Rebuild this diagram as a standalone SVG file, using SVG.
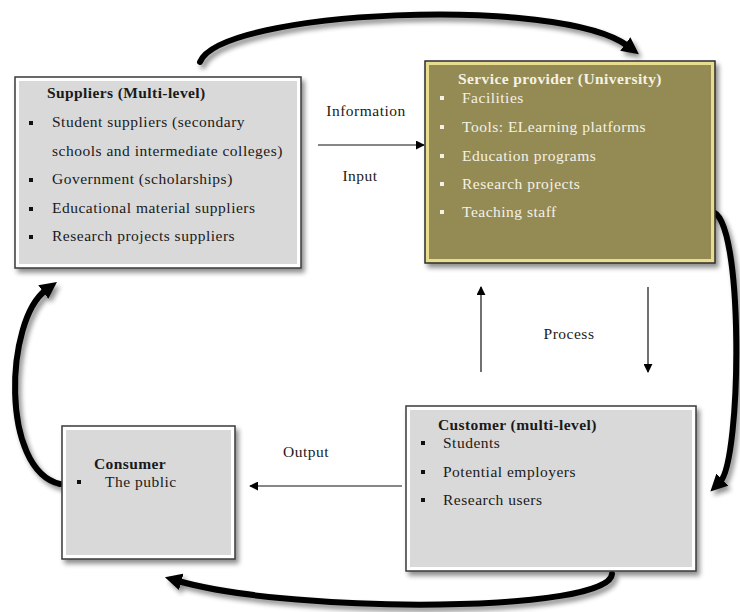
<svg xmlns="http://www.w3.org/2000/svg" width="740" height="612" viewBox="0 0 740 612">
<style>
  text { font-family: "Liberation Serif", "Times New Roman", serif; font-size: 15.5px; letter-spacing: 0.5px; fill: #1a1a1a; }
  .title { font-weight: bold; letter-spacing: 0.4px; }
  .light text, text.light { fill: #f4f2e6; }
  .outer { fill: #ffffff; stroke: #3a3a3a; stroke-width: 1.5; }
  .inner { fill: #d9d9d9; }
  .outerU { fill: #e8dc8e; stroke: #2e2e2e; stroke-width: 1.5; }
  .innerU { fill: #948a54; }
  .thin { fill: none; stroke: #111; stroke-width: 1.2; }
  .thick { fill: none; stroke: #000; stroke-width: 6; stroke-linecap: round; }
  .bul { fill: #111; }
  .bulW { fill: #f4f2e6; }
</style>
<defs>
  <filter id="sh" x="-10%" y="-10%" width="125%" height="130%">
    <feGaussianBlur in="SourceAlpha" stdDeviation="2.5"/>
    <feOffset dx="3" dy="4" result="b"/>
    <feComponentTransfer><feFuncA type="linear" slope="0.45"/></feComponentTransfer>
    <feMerge><feMergeNode/><feMergeNode in="SourceGraphic"/></feMerge>
  </filter>
  <marker id="ah" viewBox="0 0 10 10" refX="2" refY="5" markerWidth="17" markerHeight="17" markerUnits="userSpaceOnUse" orient="auto">
    <path d="M0 0 L10 5 L0 10 z" fill="#000"/>
  </marker>
  <marker id="as" viewBox="0 0 10 10" refX="9" refY="5" markerWidth="9" markerHeight="9" markerUnits="userSpaceOnUse" orient="auto">
    <path d="M0 0 L10 5 L0 10 z" fill="#000"/>
  </marker>
</defs>

<g id="connectors">
  <g filter="url(#sh)">
    <path class="thick" d="M 200 62 C 220 10, 560 -5, 628 46" marker-end="url(#ah)"/>
    <path class="thick" d="M 712 212 C 744 215, 742 460, 720 482" marker-end="url(#ah)"/>
    <path class="thick" d="M 612 574 C 610 612, 300 615, 178 581" marker-end="url(#ah)"/>
    <path class="thick" d="M 60 484 C 0 470, 5 320, 46 290" marker-end="url(#ah)"/>
  </g>
  <path class="thin" d="M 318 145 L 424 145" marker-end="url(#as)"/>
  <path class="thin" d="M 481 372 L 481 287" marker-end="url(#as)"/>
  <path class="thin" d="M 648 287 L 648 372" marker-end="url(#as)"/>
  <path class="thin" d="M 402 486 L 250 486" marker-end="url(#as)"/>
  <text x="366" y="116" text-anchor="middle">Information</text>
  <text x="360" y="181" text-anchor="middle">Input</text>
  <text x="569" y="339" text-anchor="middle">Process</text>
  <text x="306" y="457" text-anchor="middle">Output</text>
</g>

<g id="suppliers">
  <rect class="outer" x="15" y="77" width="286" height="191" filter="url(#sh)"/>
  <rect class="inner" x="19" y="81" width="278" height="183"/>
  <text class="title" x="47" y="98">Suppliers  (Multi-level)</text>
  <rect class="bul" x="29" y="121" width="4" height="4"/>
  <text x="52" y="127">Student suppliers (secondary</text>
  <text x="52" y="156">schools and intermediate colleges)</text>
  <rect class="bul" x="29" y="178" width="4" height="4"/>
  <text x="52" y="184">Government (scholarships)</text>
  <rect class="bul" x="29" y="207" width="4" height="4"/>
  <text x="52" y="213">Educational material suppliers</text>
  <rect class="bul" x="29" y="235" width="4" height="4"/>
  <text x="52" y="241">Research projects suppliers</text>
</g>

<g id="service-provider">
  <rect class="outerU" x="425" y="61" width="290" height="202" filter="url(#sh)"/>
  <rect class="innerU" x="429" y="65" width="282" height="194"/>
  <g class="light">
    <text class="title" x="458" y="84">Service provider (University)</text>
    <text x="462" y="103">Facilities</text>
    <text x="462" y="132">Tools: ELearning platforms</text>
    <text x="462" y="161">Education programs</text>
    <text x="462" y="189">Research projects</text>
    <text x="462" y="217">Teaching staff</text>
  </g>
  <rect class="bulW" x="440" y="96" width="4" height="4"/>
  <rect class="bulW" x="440" y="125" width="4" height="4"/>
  <rect class="bulW" x="440" y="154" width="4" height="4"/>
  <rect class="bulW" x="440" y="182" width="4" height="4"/>
  <rect class="bulW" x="440" y="210" width="4" height="4"/>
</g>

<g id="customer">
  <rect class="outer" x="406" y="406" width="290" height="165" filter="url(#sh)"/>
  <rect class="inner" x="410" y="410" width="282" height="157"/>
  <text class="title" x="438" y="430">Customer (multi-level)</text>
  <rect class="bul" x="421" y="441" width="4" height="4"/>
  <text x="443" y="448">Students</text>
  <rect class="bul" x="421" y="470" width="4" height="4"/>
  <text x="443" y="477">Potential employers</text>
  <rect class="bul" x="421" y="498" width="4" height="4"/>
  <text x="443" y="505">Research users</text>
</g>

<g id="consumer">
  <rect class="outer" x="62" y="426" width="173" height="133" filter="url(#sh)"/>
  <rect class="inner" x="66" y="430" width="165" height="125"/>
  <text class="title" x="94" y="469">Consumer</text>
  <rect class="bul" x="77" y="480" width="4" height="4"/>
  <text x="105" y="487">The public</text>
</g>
</svg>
